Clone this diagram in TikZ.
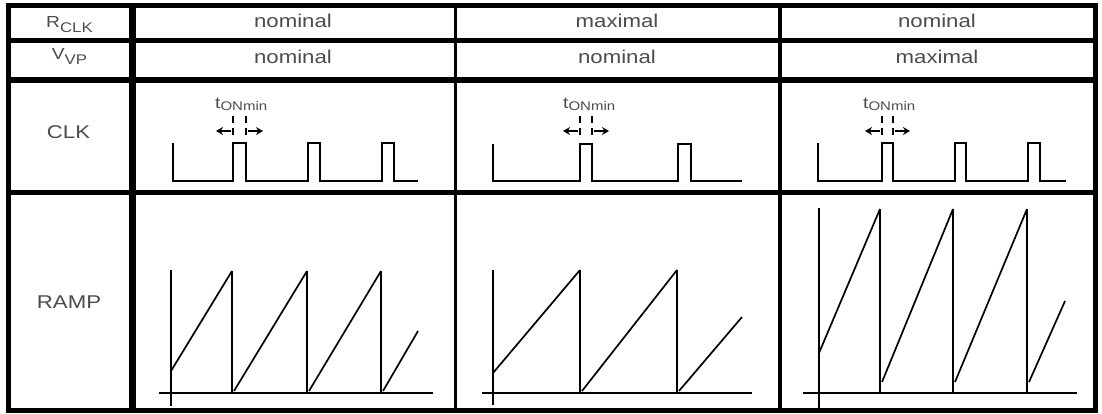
\documentclass[tikz,border=0pt]{standalone}
\usepackage{fontspec}
\setmainfont{Liberation Sans}[FakeStretch=1.2]
\usetikzlibrary{arrows.meta}
\begin{document}
\begin{tikzpicture}[x=1pt,y=-1pt,
  txt/.style={text=black!70, inner sep=0pt, anchor=base, font=\fontsize{18.5}{18.5}\selectfont},
  wave/.style={line width=2.3pt, line join=miter},
  rampline/.style={line width=1.7pt},
  axis/.style={line width=2.2pt},
  edgetick/.style={line width=2pt, dash pattern=on 7pt off 5pt},
  dimarrow/.style={line width=2.4pt, -{Stealth[length=7pt,width=8pt]}},
  tlabel/.style={text=black!70, inner sep=0pt, anchor=base west},
]
\useasboundingbox (0,0) rectangle (1102,414);
\fill[white] (0,0) rectangle (1102,414);

% ---------- table grid ----------
\draw[line width=5pt] (8,5.5) rectangle (1095.5,410.5);
\draw[line width=5pt] (8,40.5) -- (1095.5,40.5);
\draw[line width=5.5pt] (8,80) -- (1095.5,80);
\draw[line width=5.5pt] (8,192.5) -- (1095.5,192.5);
\draw[line width=6.5pt] (132.5,5.5) -- (132.5,410.5);
\draw[line width=2.8pt] (455.5,5.5) -- (455.5,410.5);
\draw[line width=4.5pt] (780,5.5) -- (780,410.5);

% ---------- header texts ----------
\node[txt] (rclk) at (69.5,28) {{\fontsize{16}{16}\selectfont R}\raisebox{-5pt}{\fontsize{14}{14}\selectfont CLK}};
\node[txt] (vvp) at (69.5,60) {{\fontsize{16}{16}\selectfont V}\raisebox{-5pt}{\fontsize{14}{14}\selectfont VP}};
\node[txt] (r1) at (293,28) {nominal};
\node[txt] (r2) at (617,28) {maximal};
\node[txt] (r3) at (937,28) {nominal};
\node[txt] (v1) at (293,63.5) {nominal};
\node[txt] (v2) at (617,63.5) {nominal};
\node[txt] (v3) at (937,63.5) {maximal};
\node[txt] (clk) at (68.5,139) {CLK};
\node[txt] (ramp) at (69,308) {RAMP};

% ---------- CLK waveforms ----------
\draw[wave] (173,143) -- (173,181) -- (233,181) -- (233,143) -- (246,143) -- (246,181)
  -- (308,181) -- (308,143) -- (320,143) -- (320,181) -- (382,181) -- (382,143)
  -- (394,143) -- (394,181) -- (418,181);
\draw[wave] (493,144) -- (493,181) -- (580,181) -- (580,144) -- (592,144) -- (592,181)
  -- (678,181) -- (678,144) -- (691,144) -- (691,181) -- (742,181);
\draw[wave] (818,143) -- (818,181) -- (882,181) -- (882,143) -- (893,143) -- (893,181)
  -- (955,181) -- (955,143) -- (966,143) -- (966,181) -- (1028,181) -- (1028,143)
  -- (1040,143) -- (1040,181) -- (1066,181);

% ---------- tONmin markers ----------
\foreach \a/\b/\tx [count=\i] in {233/246/215, 580/592/563, 882/893/863}{
  \draw[edgetick] (\a,116) -- (\a,137);
  \draw[edgetick] (\b,116) -- (\b,137);
  \coordinate (la\i) at (\a-2,131);
  \coordinate (lb\i) at (\a-17,131);
  \coordinate (ra\i) at (\b+2,131);
  \coordinate (rb\i) at (\b+17,131);
  \draw[dimarrow] (la\i) -- (lb\i);
  \draw[dimarrow] (ra\i) -- (rb\i);
  \node[tlabel] (ton\i) at (\tx,109) {{\fontsize{16}{16}\selectfont t}\raisebox{-2pt}{\fontsize{12.5}{12.5}\selectfont ONmin}};
}

% ---------- RAMP column 1 ----------
\draw[axis] (171,270) -- (171,406);
\draw[axis] (159,393) -- (433,393);
\draw[rampline] (171,371) -- (232,271);
\draw[axis] (232,271) -- (232,393);
\draw[rampline] (234,391) -- (307,271);
\draw[axis] (307,271) -- (307,393);
\draw[rampline] (309,391) -- (381,271);
\draw[axis] (381,271) -- (381,393);
\draw[rampline] (383,391) -- (418,331);

% ---------- RAMP column 2 ----------
\draw[axis] (493,270) -- (493,405);
\draw[axis] (482,393) -- (752,393);
\draw[rampline] (493,373) -- (580,270);
\draw[axis] (580,270) -- (580,393);
\draw[rampline] (582,391) -- (677,270);
\draw[axis] (677,270) -- (677,393);
\draw[rampline] (679,391) -- (742,317);

% ---------- RAMP column 3 ----------
\draw[axis] (819,208) -- (819,408);
\draw[axis] (803,393) -- (1077,393);
\draw[rampline] (819,353) -- (880,209);
\draw[axis] (880,209) -- (880,393);
\draw[rampline] (882,382) -- (953,209);
\draw[axis] (953,209) -- (953,393);
\draw[rampline] (955,382) -- (1027,209);
\draw[axis] (1027,209) -- (1027,393);
\draw[rampline] (1029,382) -- (1065,301);
\end{tikzpicture}
\end{document}
